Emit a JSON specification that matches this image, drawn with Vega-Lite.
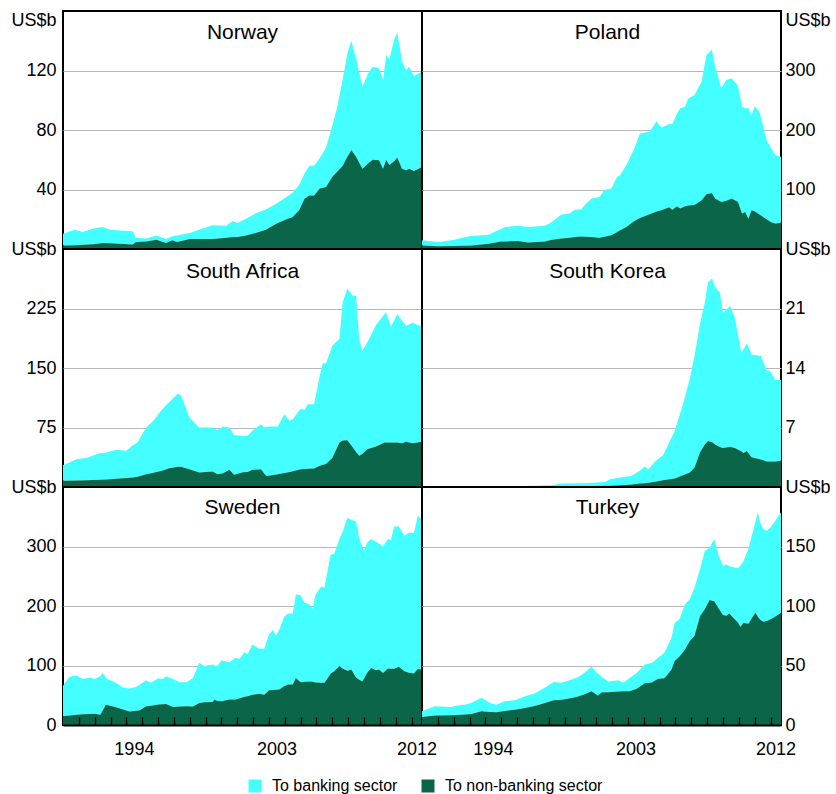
{
  "$schema": "https://vega.github.io/schema/vega-lite/v6.json",
  "padding": {"left": 9, "top": 10, "right": 2, "bottom": 0},
  "bounds": "flush",
  "spacing": 0,
  "columns": 2,
  "config": {
    "font": "Liberation Sans",
    "view": {"stroke": "black", "strokeWidth": 2},
    "axis": {"labelFont": "Liberation Sans", "labelFontSize": 18, "labelColor": "black", "domain": false, "ticks": false, "gridColor": "#b8b8b8", "gridWidth": 1, "title": null, "labelOverlap": false},
    "title": {"font": "Liberation Sans", "fontSize": 21, "fontWeight": "normal", "color": "black", "anchor": "middle", "frame": "group", "offset": -32},
    "legend": {"labelFont": "Liberation Sans", "labelFontSize": 16, "labelColor": "black"},
    "concat": {"spacing": 0}
  },
  "datasets": {
    "no": [
      {"t":1990.0,"nb":2.4,"b":7.9},{"t":1990.75,"nb":2.6,"b":10.4},{"t":1991.25,"nb":2.8,"b":8.7},{"t":1991.9,"nb":3.2,"b":10.5},{"t":1992.5,"nb":4.0,"b":10.8},{"t":1993.0,"nb":3.8,"b":9.2},{"t":1993.6,"nb":3.5,"b":9.0},{"t":1994.4,"nb":3.1,"b":8.8},{"t":1994.6,"nb":4.7,"b":2.9},{"t":1995.25,"nb":5.0,"b":2.1},{"t":1995.9,"nb":6.2,"b":2.8},{"t":1996.5,"nb":4.0,"b":2.7},{"t":1996.9,"nb":5.8,"b":2.7},{"t":1997.2,"nb":4.7,"b":4.3},{"t":1998.0,"nb":6.7,"b":4.0},{"t":1998.8,"nb":6.7,"b":7.0},{"t":1999.45,"nb":6.7,"b":9.2},{"t":2000.3,"nb":7.5,"b":8.2},{"t":2000.7,"nb":8.0,"b":10.8},{"t":2001.0,"nb":8.0,"b":9.5},{"t":2001.55,"nb":9.0,"b":11.4},{"t":2002.2,"nb":11,"b":13.2},{"t":2002.8,"nb":13,"b":13.5},{"t":2003.45,"nb":17,"b":13.5},{"t":2004.1,"nb":20,"b":15},{"t":2004.5,"nb":21.5,"b":16.5},{"t":2004.9,"nb":26,"b":17},{"t":2005.25,"nb":33.9,"b":17.1},{"t":2005.55,"nb":36,"b":19.9},{"t":2005.85,"nb":36,"b":20},{"t":2006.2,"nb":40.6,"b":20.4},{"t":2006.6,"nb":41.7,"b":26.3},{"t":2007.0,"nb":48.5,"b":34.5},{"t":2007.3,"nb":52,"b":43},{"t":2007.65,"nb":56,"b":57.7},{"t":2007.95,"nb":62,"b":69.6},{"t":2008.2,"nb":66.5,"b":73.5},{"t":2008.5,"nb":62,"b":66},{"t":2008.9,"nb":54,"b":55},{"t":2009.3,"nb":58,"b":61},{"t":2009.55,"nb":60,"b":62.6},{"t":2009.95,"nb":59.7,"b":61.8},{"t":2010.2,"nb":54,"b":59.7},{"t":2010.4,"nb":60,"b":70.5},{"t":2010.6,"nb":56.4,"b":71.2},{"t":2010.9,"nb":59,"b":81.6},{"t":2011.1,"nb":61.5,"b":84.1},{"t":2011.4,"nb":54,"b":72},{"t":2011.65,"nb":53,"b":67},{"t":2011.85,"nb":54,"b":68.6},{"t":2012.15,"nb":52.5,"b":63.8},{"t":2012.66,"nb":55.2,"b":64.1}
    ],
    "pl": [
      {"t":1990.0,"nb":6,"b":8.6},{"t":1991.0,"nb":4.5,"b":7.3},{"t":1992.06,"nb":5,"b":10.7},{"t":1992.5,"nb":5.5,"b":13.5},{"t":1993.1,"nb":6,"b":16},{"t":1994.2,"nb":9,"b":15},{"t":1995.0,"nb":12.4,"b":21.6},{"t":1995.3,"nb":12.8,"b":24.2},{"t":1996.06,"nb":13.5,"b":25.5},{"t":1996.7,"nb":11,"b":26},{"t":1997.75,"nb":12.4,"b":26.6},{"t":1998.2,"nb":15.7,"b":29.8},{"t":1998.8,"nb":17.5,"b":40.5},{"t":1999.3,"nb":19,"b":40.6},{"t":1999.65,"nb":20,"b":46},{"t":2000.06,"nb":21,"b":46},{"t":2000.3,"nb":20.5,"b":54.5},{"t":2000.7,"nb":20,"b":65},{"t":2001.2,"nb":19,"b":68.6},{"t":2001.5,"nb":20.5,"b":78.5},{"t":2001.95,"nb":23,"b":78.7},{"t":2002.3,"nb":28,"b":93},{"t":2002.5,"nb":31.5,"b":92.5},{"t":2002.9,"nb":37,"b":104},{"t":2003.4,"nb":47,"b":122},{"t":2003.75,"nb":52,"b":142},{"t":2004.4,"nb":59,"b":139},{"t":2004.8,"nb":63,"b":152},{"t":2005.1,"nb":65,"b":139},{"t":2005.6,"nb":70,"b":140},{"t":2005.8,"nb":66,"b":144},{"t":2006.1,"nb":72,"b":156},{"t":2006.3,"nb":68,"b":168.5},{"t":2006.6,"nb":72,"b":167},{"t":2006.8,"nb":73,"b":180},{"t":2007.2,"nb":74,"b":185},{"t":2007.65,"nb":82,"b":199},{"t":2007.95,"nb":92,"b":234},{"t":2008.3,"nb":94,"b":241},{"t":2008.5,"nb":85,"b":222},{"t":2008.9,"nb":79,"b":191},{"t":2009.2,"nb":81,"b":203},{"t":2009.55,"nb":85,"b":202},{"t":2009.95,"nb":79,"b":195},{"t":2010.2,"nb":59.6,"b":180},{"t":2010.4,"nb":62,"b":174},{"t":2010.6,"nb":51,"b":186},{"t":2010.8,"nb":65,"b":160},{"t":2011.0,"nb":63.5,"b":176.5},{"t":2011.3,"nb":58,"b":173},{"t":2011.75,"nb":50,"b":133},{"t":2012.05,"nb":45,"b":124},{"t":2012.3,"nb":42.7,"b":115.3},{"t":2012.66,"nb":44,"b":111}
    ],
    "sa": [
      {"t":1990.0,"nb":7.8,"b":19.7},{"t":1990.85,"nb":8.2,"b":26.8},{"t":1991.5,"nb":8.5,"b":28.5},{"t":1992.3,"nb":9.2,"b":33.4},{"t":1992.75,"nb":9.5,"b":34},{"t":1993.35,"nb":10.5,"b":36.3},{"t":1994.0,"nb":11.2,"b":34.4},{"t":1994.4,"nb":12,"b":40.7},{"t":1994.7,"nb":13,"b":43},{"t":1995.25,"nb":16,"b":59},{"t":1995.7,"nb":18,"b":65.4},{"t":1996.3,"nb":20.8,"b":78.2},{"t":1996.7,"nb":23.5,"b":83.5},{"t":1997.25,"nb":25.4,"b":92.6},{"t":1997.45,"nb":25.4,"b":90.4},{"t":1997.98,"nb":22.5,"b":65.1},{"t":1998.6,"nb":18.3,"b":56.7},{"t":1999.45,"nb":19.5,"b":55.5},{"t":1999.75,"nb":16,"b":56},{"t":2000.1,"nb":17.4,"b":58.9},{"t":2000.5,"nb":21.6,"b":53.4},{"t":2000.8,"nb":15.3,"b":50},{"t":2001.35,"nb":18.5,"b":46},{"t":2001.65,"nb":19,"b":45.5},{"t":2001.95,"nb":21.6,"b":49.2},{"t":2002.5,"nb":22.5,"b":56.7},{"t":2002.7,"nb":17,"b":58},{"t":2002.85,"nb":14,"b":62},{"t":2003.55,"nb":16,"b":60.3},{"t":2003.97,"nb":17.5,"b":74.3},{"t":2004.3,"nb":19,"b":64.4},{"t":2004.5,"nb":20,"b":65.5},{"t":2005.0,"nb":22.5,"b":76.5},{"t":2005.25,"nb":22.7,"b":74.6},{"t":2005.45,"nb":23,"b":81.4},{"t":2005.85,"nb":23.3,"b":81.1},{"t":2006.2,"nb":26.7,"b":113.3},{"t":2006.4,"nb":28,"b":128},{"t":2006.6,"nb":29,"b":127},{"t":2007.0,"nb":37,"b":141},{"t":2007.45,"nb":56,"b":131},{"t":2007.65,"nb":58.5,"b":174.1},{"t":2007.95,"nb":59,"b":191},{"t":2008.3,"nb":49.8,"b":191.2},{"t":2008.5,"nb":44,"b":197},{"t":2008.7,"nb":39.3,"b":146.7},{"t":2008.9,"nb":42,"b":129.6},{"t":2009.2,"nb":47.7,"b":134.3},{"t":2009.75,"nb":51,"b":153},{"t":2010.3,"nb":56,"b":162},{"t":2010.4,"nb":56,"b":164},{"t":2010.7,"nb":56,"b":146},{"t":2011.1,"nb":56,"b":162},{"t":2011.4,"nb":55,"b":155},{"t":2011.65,"nb":57,"b":146},{"t":2012.05,"nb":55,"b":152},{"t":2012.66,"nb":57,"b":145}
    ],
    "kr": [
      {"t":1990.0,"nb":0,"b":0},{"t":1995.0,"nb":0.02,"b":0.02},{"t":1995.65,"nb":0.04,"b":0.06},{"t":1998.2,"nb":0.06,"b":0.14},{"t":1998.8,"nb":0.08,"b":0.32},{"t":2000.3,"nb":0.1,"b":0.35},{"t":2001.55,"nb":0.14,"b":0.46},{"t":2001.85,"nb":0.15,"b":0.75},{"t":2002.8,"nb":0.25,"b":0.95},{"t":2003.2,"nb":0.3,"b":1.0},{"t":2003.75,"nb":0.4,"b":1.5},{"t":2004.05,"nb":0.45,"b":1.95},{"t":2004.3,"nb":0.5,"b":1.6},{"t":2004.7,"nb":0.62,"b":2.38},{"t":2005.2,"nb":0.8,"b":2.9},{"t":2005.95,"nb":1.0,"b":5.6},{"t":2006.5,"nb":1.4,"b":8.5},{"t":2006.9,"nb":1.7,"b":11},{"t":2007.2,"nb":2.3,"b":13.1},{"t":2007.55,"nb":4.1,"b":15.1},{"t":2007.85,"nb":5.0,"b":16.7},{"t":2008.05,"nb":5.4,"b":18.7},{"t":2008.3,"nb":5.3,"b":19.2},{"t":2008.5,"nb":5.0,"b":18.5},{"t":2008.8,"nb":4.7,"b":18.2},{"t":2009.0,"nb":4.6,"b":15.9},{"t":2009.45,"nb":4.75,"b":16.55},{"t":2009.75,"nb":4.6,"b":15.3},{"t":2010.15,"nb":4.2,"b":11.6},{"t":2010.3,"nb":4.0,"b":12.2},{"t":2010.5,"nb":4.25,"b":12.65},{"t":2010.8,"nb":3.5,"b":12.1},{"t":2011.4,"nb":3.25,"b":12.15},{"t":2011.75,"nb":3.0,"b":10.7},{"t":2011.95,"nb":3.0,"b":10.7},{"t":2012.3,"nb":3.0,"b":9.6},{"t":2012.66,"nb":3.1,"b":9.5}
    ],
    "se": [
      {"t":1990.0,"nb":14.6,"b":51.4},{"t":1990.4,"nb":16,"b":65},{"t":1990.85,"nb":17.4,"b":65.6},{"t":1991.25,"nb":18,"b":59.5},{"t":1991.7,"nb":18.5,"b":61.5},{"t":1992.0,"nb":19,"b":58.5},{"t":1992.35,"nb":17.4,"b":64.6},{"t":1992.5,"nb":24,"b":63.6},{"t":1992.7,"nb":34,"b":46},{"t":1992.85,"nb":33,"b":43.4},{"t":1993.35,"nb":30,"b":40.8},{"t":1993.8,"nb":26,"b":36.4},{"t":1994.2,"nb":22.5,"b":38.7},{"t":1994.6,"nb":24,"b":40},{"t":1994.85,"nb":24.7,"b":43.3},{"t":1995.25,"nb":31.5,"b":43.8},{"t":1995.55,"nb":32.5,"b":38.3},{"t":1996.0,"nb":34.3,"b":44.4},{"t":1996.3,"nb":35,"b":42.5},{"t":1996.5,"nb":35.4,"b":46.6},{"t":1996.95,"nb":30.3,"b":47.2},{"t":1997.35,"nb":31,"b":41},{"t":1997.8,"nb":31.5,"b":40.5},{"t":1998.2,"nb":31,"b":48},{"t":1998.6,"nb":37,"b":67.5},{"t":1998.9,"nb":38.2,"b":60.8},{"t":1999.45,"nb":38.5,"b":63.2},{"t":1999.55,"nb":42.7,"b":57.3},{"t":1999.75,"nb":40.5,"b":58.5},{"t":2000.0,"nb":40,"b":69},{"t":2000.5,"nb":42.7,"b":62.9},{"t":2000.9,"nb":42.7,"b":70.3},{"t":2001.15,"nb":45,"b":66},{"t":2001.45,"nb":47.5,"b":75},{"t":2001.65,"nb":48.5,"b":70},{"t":2001.95,"nb":51,"b":84.4},{"t":2002.4,"nb":52.5,"b":75.5},{"t":2002.7,"nb":51,"b":77},{"t":2003.0,"nb":58.4,"b":93.6},{"t":2003.25,"nb":59,"b":100.6},{"t":2003.45,"nb":59.3,"b":91.3},{"t":2003.65,"nb":59.6,"b":101.1},{"t":2003.95,"nb":65,"b":116.5},{"t":2004.2,"nb":68,"b":119.6},{"t":2004.5,"nb":68,"b":119.6},{"t":2004.7,"nb":79.2,"b":140.5},{"t":2005.0,"nb":72,"b":146},{"t":2005.25,"nb":72.5,"b":133.1},{"t":2005.55,"nb":73.3,"b":129.5},{"t":2005.75,"nb":72.5,"b":123},{"t":2005.95,"nb":71.5,"b":148.2},{"t":2006.3,"nb":70.8,"b":161.8},{"t":2006.5,"nb":70.8,"b":160.2},{"t":2006.6,"nb":75,"b":170},{"t":2006.9,"nb":86.5,"b":200.5},{"t":2007.1,"nb":90,"b":197},{"t":2007.45,"nb":99,"b":213.4},{"t":2007.65,"nb":95,"b":229.7},{"t":2007.95,"nb":91,"b":257.3},{"t":2008.2,"nb":93.3,"b":251.7},{"t":2008.5,"nb":80,"b":261.6},{"t":2008.7,"nb":76,"b":236.4},{"t":2008.9,"nb":73.6,"b":226.4},{"t":2009.0,"nb":78,"b":214.7},{"t":2009.2,"nb":88,"b":218.7},{"t":2009.45,"nb":96,"b":216.4},{"t":2009.75,"nb":92,"b":216},{"t":2009.95,"nb":93.3,"b":211.7},{"t":2010.2,"nb":87.6,"b":212.4},{"t":2010.5,"nb":95,"b":217.4},{"t":2010.7,"nb":94.7,"b":216.3},{"t":2010.9,"nb":94.4,"b":239.3},{"t":2011.2,"nb":97.8,"b":235.9},{"t":2011.55,"nb":90.4,"b":227.6},{"t":2011.85,"nb":88,"b":235.6},{"t":2012.15,"nb":86.5,"b":236},{"t":2012.4,"nb":94.4,"b":257.3},{"t":2012.66,"nb":93,"b":252}
    ],
    "tr": [
      {"t":1990.0,"nb":6.7,"b":4.8},{"t":1990.8,"nb":7.9,"b":7.8},{"t":1991.85,"nb":8.1,"b":7.1},{"t":1992.2,"nb":8.3,"b":8},{"t":1992.7,"nb":8.8,"b":8.3},{"t":1993.1,"nb":9.3,"b":9.2},{"t":1993.75,"nb":11.5,"b":11.3},{"t":1994.3,"nb":11,"b":7.5},{"t":1994.7,"nb":10.7,"b":6.4},{"t":1995.2,"nb":11.8,"b":8.2},{"t":1995.85,"nb":12.8,"b":8},{"t":1996.5,"nb":14.3,"b":9.9},{"t":1997.1,"nb":16,"b":10.4},{"t":1997.75,"nb":18.5,"b":12.7},{"t":1998.3,"nb":20.7,"b":15.5},{"t":1998.8,"nb":21.3,"b":14.1},{"t":1999.45,"nb":22.7,"b":15.5},{"t":1999.85,"nb":24,"b":16.4},{"t":2000.3,"nb":26,"b":18.4},{"t":2000.7,"nb":28.4,"b":20.5},{"t":2001.1,"nb":24.7,"b":18.3},{"t":2001.35,"nb":27.5,"b":12.9},{"t":2001.75,"nb":27.5,"b":9},{"t":2002.4,"nb":28.2,"b":9.4},{"t":2002.7,"nb":28.4,"b":7},{"t":2003.1,"nb":28.4,"b":11.2},{"t":2003.55,"nb":30.5,"b":13.3},{"t":2004.05,"nb":35,"b":15.8},{"t":2004.5,"nb":35.8,"b":16.4},{"t":2004.9,"nb":38.8,"b":17.7},{"t":2005.3,"nb":39.2,"b":21.5},{"t":2005.75,"nb":46.6,"b":26.7},{"t":2005.95,"nb":54,"b":32},{"t":2006.25,"nb":57.5,"b":31.3},{"t":2006.6,"nb":63.5,"b":37.9},{"t":2006.9,"nb":70.5,"b":35.1},{"t":2007.2,"nb":75,"b":40.4},{"t":2007.55,"nb":91.6,"b":39.4},{"t":2007.85,"nb":97.2,"b":49.1},{"t":2008.15,"nb":105,"b":44.2},{"t":2008.45,"nb":104,"b":52.2},{"t":2008.7,"nb":98.6,"b":44.9},{"t":2009.0,"nb":92.5,"b":41.2},{"t":2009.2,"nb":91.8,"b":43.3},{"t":2009.4,"nb":93.8,"b":39.7},{"t":2009.65,"nb":90.2,"b":42.3},{"t":2009.95,"nb":86,"b":45.7},{"t":2010.1,"nb":82.6,"b":51.4},{"t":2010.3,"nb":86,"b":52},{"t":2010.6,"nb":85,"b":62.8},{"t":2010.9,"nb":91.6,"b":71.6},{"t":2011.05,"nb":94.4,"b":76.6},{"t":2011.2,"nb":91,"b":87.7},{"t":2011.35,"nb":88.5,"b":81.5},{"t":2011.55,"nb":86.8,"b":77.8},{"t":2011.75,"nb":87.5,"b":75.7},{"t":2012.0,"nb":88.8,"b":77.2},{"t":2012.15,"nb":90,"b":78.8},{"t":2012.4,"nb":92.1,"b":81.4},{"t":2012.66,"nb":94.4,"b":84.3}
    ]
  },
  "concat": [
      {"width": 359, "height": 238, "data": {"name": "no"}, "title": {"text": "Norway"},
       "transform": [{"fold": ["b", "nb"], "as": ["sector", "value"]}],
       "mark": {"type": "area"},
       "encoding": {
         "x": {"field": "t", "type": "quantitative", "scale": {"domain": [1990, 2012.66], "nice": false, "zero": false}, "axis": null},
         "y": {"field": "value", "type": "quantitative", "stack": "zero", "scale": {"domain": [0, 160], "nice": false}, "axis": {"orient": "left", "values": [0, 40, 80, 120, 160], "labelExpr": "datum.value == 160 ? 'US$b' : datum.value == 0 ? '' : datum.label", "labelAlign": "right", "labelPadding": 7, "labelBaseline": {"condition": {"test": "datum.value == 160", "value": "top"}, "value": "middle"}, "gridOpacity": {"condition": {"test": "datum.value == 0 || datum.value == 160", "value": 0}, "value": 1}}},
         "color": {"field": "sector", "type": "nominal", "scale": {"domain": ["b", "nb"], "range": ["#44ffff", "#0b6548"]}, "legend": {"orient": "none", "legendX": 184, "legendY": 767, "direction": "horizontal", "title": null, "symbolType": "square", "symbolSize": 169, "symbolStrokeWidth": 0, "symbolOpacity": 1, "labelOffset": 9, "columnPadding": 22, "labelExpr": "datum.label == 'b' ? 'To banking sector' : 'To non-banking sector'"}},
         "order": {"field": "sector", "sort": "descending"}
       }},
      {"width": 359, "height": 238, "data": {"name": "pl"}, "title": {"text": "Poland", "dx": 6},
       "transform": [{"fold": ["b", "nb"], "as": ["sector", "value"]}],
       "mark": {"type": "area"},
       "encoding": {
         "x": {"field": "t", "type": "quantitative", "scale": {"domain": [1990, 2012.66], "nice": false, "zero": false}, "axis": null},
         "y": {"field": "value", "type": "quantitative", "stack": "zero", "scale": {"domain": [0, 400], "nice": false}, "axis": {"orient": "right", "values": [0, 100, 200, 300, 400], "labelExpr": "datum.value == 400 ? 'US$b' : datum.value == 0 ? '' : datum.label", "labelAlign": "left", "labelPadding": 4, "labelBaseline": {"condition": {"test": "datum.value == 400", "value": "top"}, "value": "middle"}, "gridOpacity": {"condition": {"test": "datum.value == 0 || datum.value == 400", "value": 0}, "value": 1}}},
         "color": {"field": "sector", "type": "nominal", "scale": {"domain": ["b", "nb"], "range": ["#44ffff", "#0b6548"]}, "legend": {"orient": "none", "legendX": 184, "legendY": 767, "direction": "horizontal", "title": null, "symbolType": "square", "symbolSize": 169, "symbolStrokeWidth": 0, "symbolOpacity": 1, "labelOffset": 9, "columnPadding": 22, "labelExpr": "datum.label == 'b' ? 'To banking sector' : 'To non-banking sector'"}},
         "order": {"field": "sector", "sort": "descending"}
       }},
      {"width": 359, "height": 238, "data": {"name": "sa"}, "title": {"text": "South Africa", "offset": -42},
       "transform": [{"fold": ["b", "nb"], "as": ["sector", "value"]}],
       "mark": {"type": "area"},
       "encoding": {
         "x": {"field": "t", "type": "quantitative", "scale": {"domain": [1990, 2012.66], "nice": false, "zero": false}, "axis": null},
         "y": {"field": "value", "type": "quantitative", "stack": "zero", "scale": {"domain": [0, 300], "nice": false}, "axis": {"orient": "left", "values": [0, 75, 150, 225, 300], "labelExpr": "datum.value == 300 ? 'US$b' : datum.value == 0 ? '' : datum.label", "labelAlign": "right", "labelPadding": 7, "gridOpacity": {"condition": {"test": "datum.value == 0 || datum.value == 300", "value": 0}, "value": 1}}},
         "color": {"field": "sector", "type": "nominal", "scale": {"domain": ["b", "nb"], "range": ["#44ffff", "#0b6548"]}, "legend": {"orient": "none", "legendX": 184, "legendY": 767, "direction": "horizontal", "title": null, "symbolType": "square", "symbolSize": 169, "symbolStrokeWidth": 0, "symbolOpacity": 1, "labelOffset": 9, "columnPadding": 22, "labelExpr": "datum.label == 'b' ? 'To banking sector' : 'To non-banking sector'"}},
         "order": {"field": "sector", "sort": "descending"}
       }},
      {"width": 359, "height": 238, "data": {"name": "kr"}, "title": {"text": "South Korea", "dx": 6, "offset": -42},
       "transform": [{"fold": ["b", "nb"], "as": ["sector", "value"]}],
       "mark": {"type": "area"},
       "encoding": {
         "x": {"field": "t", "type": "quantitative", "scale": {"domain": [1990, 2012.66], "nice": false, "zero": false}, "axis": null},
         "y": {"field": "value", "type": "quantitative", "stack": "zero", "scale": {"domain": [0, 28], "nice": false}, "axis": {"orient": "right", "values": [0, 7, 14, 21, 28], "labelExpr": "datum.value == 28 ? 'US$b' : datum.value == 0 ? '' : datum.label", "labelAlign": "left", "labelPadding": 4, "gridOpacity": {"condition": {"test": "datum.value == 0 || datum.value == 28", "value": 0}, "value": 1}}},
         "color": {"field": "sector", "type": "nominal", "scale": {"domain": ["b", "nb"], "range": ["#44ffff", "#0b6548"]}, "legend": {"orient": "none", "legendX": 184, "legendY": 767, "direction": "horizontal", "title": null, "symbolType": "square", "symbolSize": 169, "symbolStrokeWidth": 0, "symbolOpacity": 1, "labelOffset": 9, "columnPadding": 22, "labelExpr": "datum.label == 'b' ? 'To banking sector' : 'To non-banking sector'"}},
         "order": {"field": "sector", "sort": "descending"}
       }},
      {"width": 359, "height": 238, "data": {"name": "se"}, "title": {"text": "Sweden", "offset": -40},
       "transform": [{"fold": ["b", "nb"], "as": ["sector", "value"]}],
       "mark": {"type": "area"},
       "encoding": {
         "x": {"field": "t", "type": "quantitative", "scale": {"domain": [1990, 2012.66], "nice": false, "zero": false}, "axis": {"orient": "bottom", "values": [1991,1992,1993,1994,1995,1996,1997,1998,1999,2000,2001,2002,2003,2004,2005,2006,2007,2008,2009,2010,2011,2012], "format": "d", "labelExpr": "datum.value == 1994 || datum.value == 2003 || datum.value == 2012 ? datum.label : ''", "labelOffset": {"condition": {"test": "datum.value == 2012", "value": 5}, "value": 7.5}, "ticks": true, "tickSize": -8, "tickColor": "black", "tickWidth": 1.3, "domain": true, "domainColor": "black", "domainWidth": 2, "labelPadding": 23, "labelFlush": false, "grid": false, "zindex": 1}},
         "y": {"field": "value", "type": "quantitative", "stack": "zero", "scale": {"domain": [0, 400], "nice": false}, "axis": {"orient": "left", "values": [0, 100, 200, 300, 400], "labelExpr": "datum.value == 400 ? 'US$b' : datum.label", "labelAlign": "right", "labelPadding": 7, "gridOpacity": {"condition": {"test": "datum.value == 0 || datum.value == 400", "value": 0}, "value": 1}}},
         "color": {"field": "sector", "type": "nominal", "scale": {"domain": ["b", "nb"], "range": ["#44ffff", "#0b6548"]}, "legend": {"orient": "none", "legendX": 184, "legendY": 767, "direction": "horizontal", "title": null, "symbolType": "square", "symbolSize": 169, "symbolStrokeWidth": 0, "symbolOpacity": 1, "labelOffset": 9, "columnPadding": 22, "labelExpr": "datum.label == 'b' ? 'To banking sector' : 'To non-banking sector'"}},
         "order": {"field": "sector", "sort": "descending"}
       }},
      {"width": 359, "height": 238, "data": {"name": "tr"}, "title": {"text": "Turkey", "dx": 6, "offset": -40},
       "transform": [{"fold": ["b", "nb"], "as": ["sector", "value"]}],
       "mark": {"type": "area"},
       "encoding": {
         "x": {"field": "t", "type": "quantitative", "scale": {"domain": [1990, 2012.66], "nice": false, "zero": false}, "axis": {"orient": "bottom", "values": [1991,1992,1993,1994,1995,1996,1997,1998,1999,2000,2001,2002,2003,2004,2005,2006,2007,2008,2009,2010,2011,2012], "format": "d", "labelExpr": "datum.value == 1994 || datum.value == 2003 || datum.value == 2012 ? datum.label : ''", "labelOffset": {"condition": {"test": "datum.value == 2012", "value": 5}, "value": 7.5}, "ticks": true, "tickSize": -8, "tickColor": "black", "tickWidth": 1.3, "domain": true, "domainColor": "black", "domainWidth": 2, "labelPadding": 23, "labelFlush": false, "grid": false, "zindex": 1}},
         "y": {"field": "value", "type": "quantitative", "stack": "zero", "scale": {"domain": [0, 200], "nice": false}, "axis": {"orient": "right", "values": [0, 50, 100, 150, 200], "labelExpr": "datum.value == 200 ? 'US$b' : datum.label", "labelAlign": "left", "labelPadding": 4, "gridOpacity": {"condition": {"test": "datum.value == 0 || datum.value == 200", "value": 0}, "value": 1}}},
         "color": {"field": "sector", "type": "nominal", "scale": {"domain": ["b", "nb"], "range": ["#44ffff", "#0b6548"]}, "legend": {"orient": "none", "legendX": 184, "legendY": 767, "direction": "horizontal", "title": null, "symbolType": "square", "symbolSize": 169, "symbolStrokeWidth": 0, "symbolOpacity": 1, "labelOffset": 9, "columnPadding": 22, "labelExpr": "datum.label == 'b' ? 'To banking sector' : 'To non-banking sector'"}},
         "order": {"field": "sector", "sort": "descending"}
       }}
  ]
}
